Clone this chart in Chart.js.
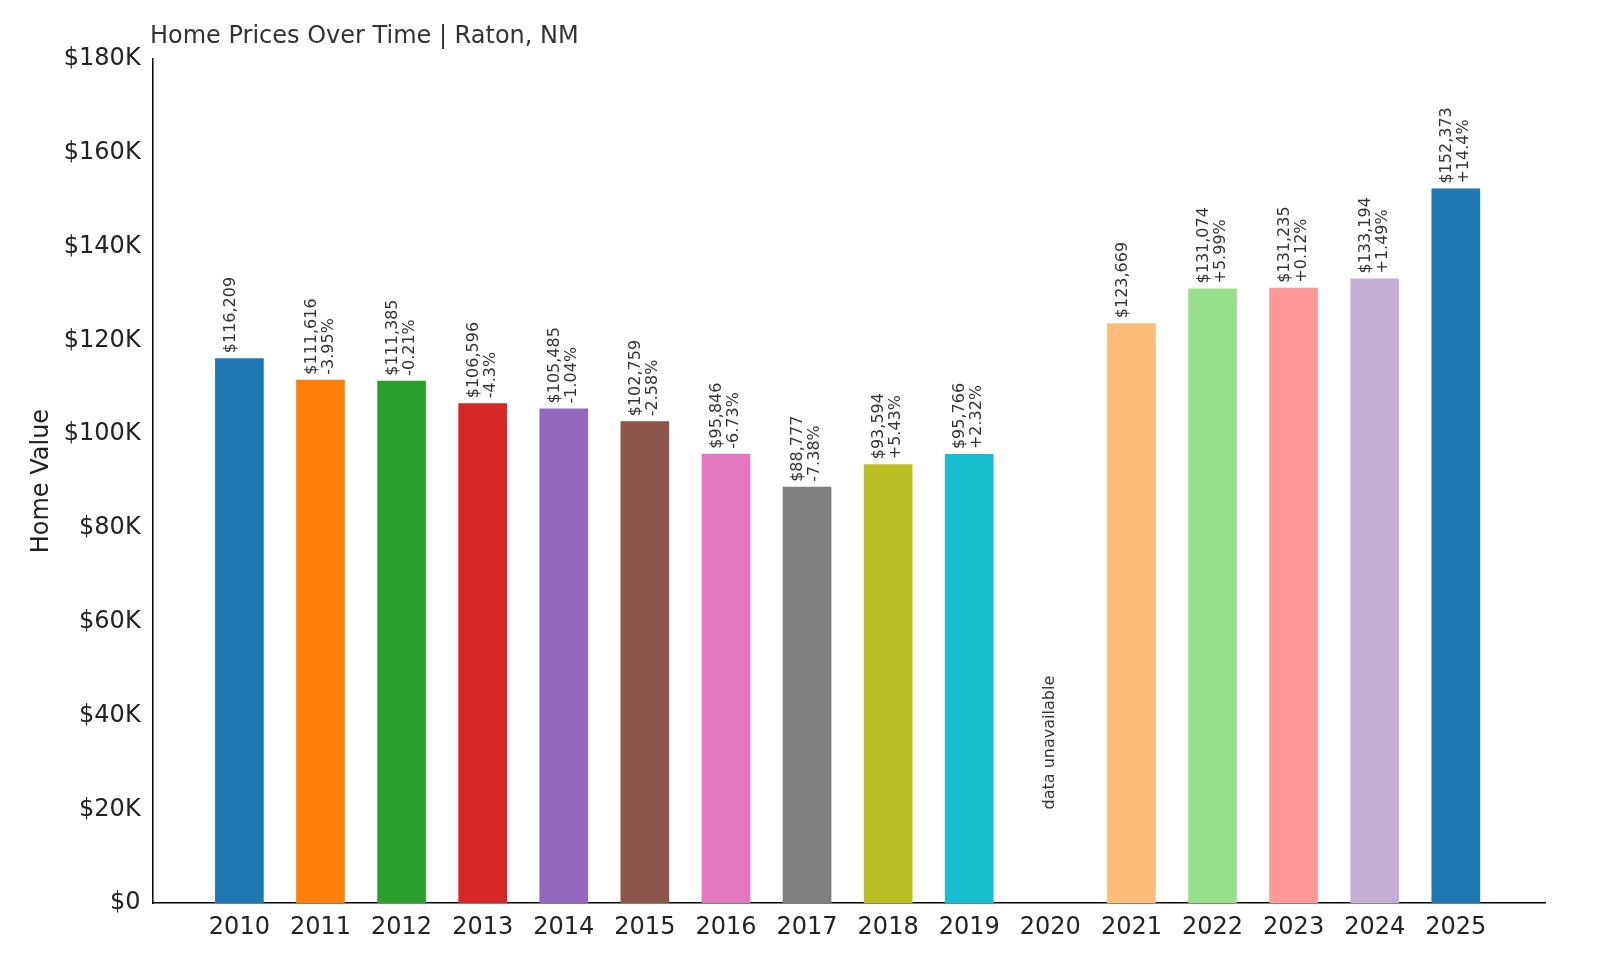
<!DOCTYPE html>
<html><head><meta charset="utf-8">
<script src="https://cdn.jsdelivr.net/npm/chart.js@4"></script>
<style>html,body{margin:0;padding:0;background:#fff}</style>
</head><body>
<canvas id="c" width="1600" height="960" style="width:1600px;height:960px"></canvas>
<script>
const years = ["2010","2011","2012","2013","2014","2015","2016","2017","2018","2019","2020","2021","2022","2023","2024","2025"];
const values = [116209,111616,111385,106596,105485,102759,95846,88777,93594,95766,null,123669,131074,131235,133194,152373];
const changes = ["","-3.95%","-0.21%","-4.3%","-1.04%","-2.58%","-6.73%","-7.38%","+5.43%","+2.32%","","","+5.99%","+0.12%","+1.49%","+14.4%"];
const colors = ["#1f77b4","#ff7f0e","#2ca02c","#d62728","#9467bd","#8c564b","#e377c2","#7f7f7f","#bcbd22","#17becf","#1f77b4","#ffbb78","#98df8a","#ff9896","#c5b0d5","#1f77b4"];
const FONT = "'DejaVu Sans', sans-serif";

const labelPlugin = {
  id: 'labels',
  afterDatasetsDraw(chart) {
    const ctx = chart.ctx, x = chart.scales.x, y = chart.scales.y;
    ctx.save();
    ctx.fillStyle = '#333';
    ctx.font = "16px " + FONT;
    ctx.textBaseline = 'middle';
    ctx.textAlign = 'left';
    values.forEach((v, i) => {
      const cx = x.getPixelForValue(i);
      if (v === null) {
        ctx.save();
        ctx.translate(cx, y.getPixelForValue(20000));
        ctx.rotate(-Math.PI/2);
        ctx.fillText("data unavailable", 0, 0);
        ctx.restore();
        return;
      }
      const top = y.getPixelForValue(v) - 5;
      const lines = ["$" + v.toLocaleString('en-US')];
      if (changes[i]) lines.push(changes[i]);
      lines.forEach((t, j) => {
        ctx.save();
        ctx.translate(cx - 9 + j * 17, top);
        ctx.rotate(-Math.PI/2);
        ctx.fillText(t, 0, 0);
        ctx.restore();
      });
    });
    ctx.fillStyle = '#333';
    ctx.font = "24px " + FONT;
    ctx.textBaseline = 'alphabetic';
    ctx.fillText("Home Prices Over Time | Raton, NM", 150, 43);
    ctx.restore();
  }
};

const points = values.map((v, i) => ({ x: i, y: v }));

new Chart(document.getElementById('c'), {
  type: 'bar',
  data: { datasets: [{ data: points, backgroundColor: colors, barPercentage: 0.6, categoryPercentage: 1.0 }] },
  options: {
    responsive: false, animation: false,
    layout: { padding: { top: 59, right: 55, left: 23, bottom: 16 } },
    plugins: { legend: { display: false }, tooltip: { enabled: false } },
    scales: {
      x: {
        type: 'linear', min: -1.07, max: 16.1, offset: false,
        afterBuildTicks: s => { s.ticks = years.map((_, i) => ({ value: i })); },
        grid: { display: false, drawTicks: true, tickLength: 8, color: '#000' },
        border: { color: '#000', width: 1.5 },
        ticks: { color: '#222', font: { size: 24, family: FONT }, maxRotation: 0, padding: 2, autoSkip: false,
          callback: v => years[v] ?? '' }
      },
      y: {
        min: 0, max: 180000,
        grid: { display: false, drawTicks: true, tickLength: 8, color: '#000' },
        border: { color: '#000', width: 1.5 },
        ticks: { stepSize: 20000, color: '#222', font: { size: 24, family: FONT }, padding: 4,
          callback: v => '$' + (v/1000) + (v ? 'K' : '') },
        title: { display: true, text: 'Home Value', color: '#222', font: { size: 24, family: FONT } }
      }
    }
  },
  plugins: [labelPlugin]
});
</script>
</body></html>
